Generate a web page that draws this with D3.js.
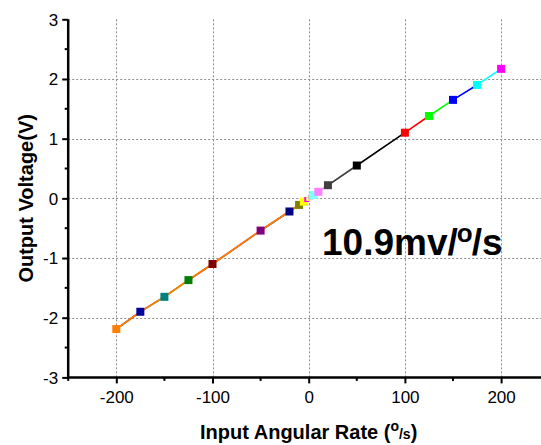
<!DOCTYPE html>
<html>
<head>
<meta charset="utf-8">
<script src="https://cdn.jsdelivr.net/npm/d3@7"></script>
<style>
  html, body { margin: 0; padding: 0; background: #fff; }
  svg { display: block; font-family: Arial, "Liberation Sans", sans-serif; }
</style>
</head>
<body>
<svg id="chart" width="541" height="445"></svg>
<script>
// ---- data ----
const rates = [-200, -175, -150, -125, -100, -50, -20, -10, -5, -2, 0, 2, 5, 10, 20, 50, 100, 125, 150, 175, 200];
const voltages = [-2.19, -1.90, -1.65, -1.37, -1.10, -0.54, -0.22, -0.11, -0.055, -0.02, 0.0, 0.02, 0.055, 0.11, 0.22, 0.55, 1.10, 1.38, 1.65, 1.90, 2.17];
const pointColors = ["#ff8000", "#0000a0", "#008080", "#008000", "#800000", "#800080", "#000080", "#808000", "#ffff00", "#ff00ff", "#ffff80", "#c0c0c0", "#80ffff", "#ff80ff", "#404040", "#000000", "#ff0000", "#00ff00", "#0000ff", "#00ffff", "#ff00ff"];
const xTicks = [-200, -100, 0, 100, 200];
const yTicks = [-3, -2, -1, 0, 1, 2, 3];
const slopeLabel = "10.9mv/";

const svg = d3.select("#chart");
const x = d3.scaleLinear().domain([-250, 250]).range([68.2, 549.2]);
const y = d3.scaleLinear().domain([-3, 3]).range([377.4, 19.3]);

const data = rates.map((r, i) => ({ r, v: voltages[i], c: pointColors[i] }));

// grid
const grid = svg.append("g").attr("stroke", "#8a8a8a").attr("stroke-width", 1).attr("stroke-dasharray", "2,2");
grid.selectAll("line.gx").data(xTicks).join("line")
  .attr("x1", d => Math.round(x(d)) + 0.5).attr("x2", d => Math.round(x(d)) + 0.5)
  .attr("y1", y(3)).attr("y2", y(-3));
grid.selectAll("line.gy").data(yTicks.filter(d => d > -3 && d < 3)).join("line")
  .attr("x1", x(-250)).attr("x2", 541)
  .attr("y1", d => Math.round(y(d)) + 0.5).attr("y2", d => Math.round(y(d)) + 0.5);

// colored segments: each segment takes the colour of the point nearer zero
const segs = [];
for (let i = 0; i < data.length - 1; i++) {
  const a = data[i], b = data[i + 1];
  const inner = Math.abs(a.r) < Math.abs(b.r) ? a : b;
  segs.push({ a, b, c: inner.c });
}
svg.append("g").selectAll("line").data(segs).join("line")
  .attr("x1", d => x(d.a.r)).attr("y1", d => y(d.a.v))
  .attr("x2", d => x(d.b.r)).attr("y2", d => y(d.b.v))
  .attr("stroke", d => d.c).attr("stroke-width", 1.6);

// orange overlay on the negative branch
const neg = data.filter(d => d.r <= 0);
svg.append("path").datum(neg)
  .attr("d", d3.line().x(d => x(d.r)).y(d => y(d.v)))
  .attr("fill", "none").attr("stroke", "#ff8000").attr("stroke-width", 1.8);

// markers
const ms = 8;
svg.append("g").selectAll("rect").data(data).join("rect")
  .attr("x", d => x(d.r) - (Math.abs(d.r) < 3 ? 2.5 : ms / 2)).attr("y", d => y(d.v) - (Math.abs(d.r) < 3 ? 2.5 : ms / 2))
  .attr("width", d => Math.abs(d.r) < 3 ? 5 : ms).attr("height", d => Math.abs(d.r) < 3 ? 5 : ms)
  .attr("fill", d => d.c);

// axes
const fmt = d => String(d);
const xAxis = svg.append("g").attr("transform", `translate(0,${y(-3)})`)
  .call(d3.axisBottom(x).tickValues(xTicks).tickSize(6).tickFormat(fmt));
const yAxis = svg.append("g").attr("transform", `translate(${x(-250)},0)`)
  .call(d3.axisLeft(y).tickValues(yTicks).tickSize(6).tickFormat(fmt));
[xAxis, yAxis].forEach(g => {
  g.select(".domain").attr("stroke", "#000").attr("stroke-width", 2.5);
  g.selectAll(".tick line").attr("stroke", "#000").attr("stroke-width", 2);
  g.selectAll(".tick text").attr("fill", "#000").attr("font-size", 17)
    .attr("font-family", "Arial, 'Liberation Sans', sans-serif");
});
xAxis.select(".domain").attr("d", `M${x(-250)},0H${x(250)}`);
yAxis.select(".domain").attr("d", `M0,${y(-3)}V${y(3)}`);
xAxis.selectAll(".tick text").attr("dy", null).attr("y", 26);
yAxis.selectAll(".tick text").attr("x", -10).attr("dy", "0.35em");

// minor ticks
const xMinor = d3.range(-250, 251, 100);
svg.append("g").selectAll("line").data(xMinor).join("line")
  .attr("x1", d => x(d)).attr("x2", d => x(d))
  .attr("y1", y(-3)).attr("y2", y(-3) + 3.5)
  .attr("stroke", "#000").attr("stroke-width", 2);
const yMinor = d3.range(-2.5, 3, 1);
svg.append("g").selectAll("line").data(yMinor).join("line")
  .attr("x1", x(-250)).attr("x2", x(-250) - 3.5)
  .attr("y1", d => y(d)).attr("y2", d => y(d))
  .attr("stroke", "#000").attr("stroke-width", 2);

// slope annotation
const ann = svg.append("text").attr("x", 322).attr("y", 255)
  .attr("font-size", 37).attr("font-weight", "bold").attr("fill", "#000");
ann.append("tspan").text(slopeLabel);
ann.append("tspan").attr("font-size", 26).attr("dy", -13).attr("dx", -1).text("o");
ann.append("tspan").attr("dy", 13).attr("dx", -1).text("/s");

// axis titles
const xt = svg.append("text").attr("x", x(0)).attr("y", 439).attr("text-anchor", "middle")
  .attr("font-size", 20).attr("font-weight", "bold").attr("fill", "#000");
xt.append("tspan").text("Input Angular Rate (");
xt.append("tspan").attr("font-size", 14).attr("dy", -8).text("o");
xt.append("tspan").attr("font-size", 14).attr("dy", 8).text("/s");
xt.append("tspan").text(")");

svg.append("text")
  .attr("transform", `translate(33,${y(0)}) rotate(-90)`)
  .attr("text-anchor", "middle")
  .attr("font-size", 20).attr("font-weight", "bold").attr("fill", "#000")
  .text("Output Voltage(V)");
</script>
</body>
</html>
